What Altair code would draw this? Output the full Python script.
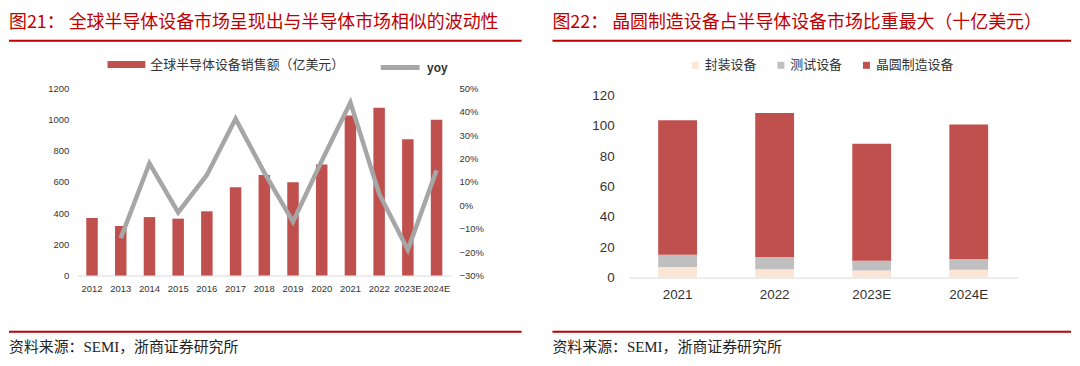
import altair as alt
import pandas as pd

# ---------------- data ----------------
years = ["2012", "2013", "2014", "2015", "2016", "2017", "2018", "2019",
         "2020", "2021", "2022", "2023E", "2024E"]
sales = [369, 318, 375, 365, 412, 566, 645, 598, 712, 1026, 1076, 874, 1000]
yoy = [None, -0.14, 0.18, -0.03, 0.13, 0.37, 0.14, -0.07, 0.19, 0.44, 0.05, -0.19, 0.15]
sales_name = "全球半导体设备销售额（亿美元）"
yoy_name = "yoy"

years2 = ["2021", "2022", "2023E", "2024E"]
cats = ["封装设备", "测试设备", "晶圆制造设备"]
pack = [7.0, 5.4, 4.6, 5.2]
test = [8.1, 8.2, 6.5, 7.1]
wafer = [88.5, 94.8, 77.0, 88.5]

title_l = "图21：  全球半导体设备市场呈现出与半导体市场相似的波动性"
title_r = "图22：  晶圆制造设备占半导体设备市场比重最大（十亿美元）"
source = "资料来源：SEMI，浙商证券研究所"

RED = "#C00000"
BAR = "#C0504D"
GRAY = "#A6A6A6"
CJK = "Noto Sans CJK SC"
LAT = "Liberation Sans"
SERIF = "Liberation Serif, Noto Sans CJK SC"

df_l = pd.DataFrame({"year": years, "sales": sales, "yoy": yoy,
                     "s1": sales_name, "s2": yoy_name})
rows = []
for i, y in enumerate(years2):
    for j, (c, v) in enumerate(zip(cats, [pack[i], test[i], wafer[i]])):
        rows.append({"year": y, "cat": c, "value": v, "ord": j})
df_r = pd.DataFrame(rows)
one = pd.DataFrame({"a": [0]})


def decorations(title, x0, x1, ty, ly_top, ly_bot, sy):
    t = alt.Chart(one).mark_text(text=title, align="left", baseline="middle",
                                 font=CJK, fontSize=18, color=RED).encode(
        x=alt.value(x0), y=alt.value(ty))
    r1 = alt.Chart(one).mark_rule(color=RED, strokeWidth=2).encode(
        x=alt.value(x0), x2=alt.value(x1), y=alt.value(ly_top))
    r2 = alt.Chart(one).mark_rule(color=RED, strokeWidth=2).encode(
        x=alt.value(x0), x2=alt.value(x1), y=alt.value(ly_bot))
    s = alt.Chart(one).mark_text(text=source, align="left", baseline="middle",
                                 font=SERIF, fontSize=15, color="#222222").encode(
        x=alt.value(x0), y=alt.value(sy))
    return [t, r1, r2, s]


# ---------------- left panel ----------------
xl = alt.X("year:N", sort=years,
           scale=alt.Scale(paddingInner=0.6, paddingOuter=0.3),
           axis=alt.Axis(title=None, labelAngle=0, labelFont=LAT, labelFontSize=9.5,
                         labelColor="#333333", labelPadding=8, ticks=False,
                         domain=True, domainColor="#D9D9D9", grid=False))

bars_l = alt.Chart(df_l).mark_bar().encode(
    x=xl,
    y=alt.Y("sales:Q", scale=alt.Scale(domain=[0, 1200], nice=False),
            axis=alt.Axis(title=None, values=[0, 200, 400, 600, 800, 1000, 1200],
                          format="d",
                          labelFont=LAT, labelFontSize=9.5, labelColor="#333333",
                          labelPadding=9, ticks=False, domain=False, grid=False)),
    color=alt.Color("s1:N", scale=alt.Scale(domain=[sales_name], range=[BAR]),
                    legend=alt.Legend(orient="none", legendX=30, legendY=-43, title=None,
                                      padding=0, labelLimit=400,
                                      symbolType="M-1,-0.184L1,-0.184L1,0.184L-1,0.184Z",
                                      symbolSize=1444, symbolStrokeWidth=0,
                                      labelFont=CJK, labelFontSize=13, labelColor="#333333",
                                      labelOffset=5)),
)

line_l = alt.Chart(df_l).transform_filter("datum.yoy != null").mark_line(
    strokeWidth=4.5).encode(
    x=alt.X("year:N", sort=years),
    y=alt.Y("yoy:Q", scale=alt.Scale(domain=[-0.3, 0.5], nice=False),
            axis=alt.Axis(title=None, orient="right", format=".0%",
                          values=[-0.3, -0.2, -0.1, 0, 0.1, 0.2, 0.3, 0.4, 0.5],
                          labelFont=LAT, labelFontSize=9.5, labelColor="#333333",
                          labelPadding=8, ticks=False, domain=False, grid=False)),
    stroke=alt.Stroke("s2:N", scale=alt.Scale(domain=[yoy_name], range=[GRAY]),
                      legend=alt.Legend(orient="none", legendX=302, legendY=-43, title=None,
                                        padding=0, symbolType="stroke", symbolSize=1521,
                                        symbolStrokeWidth=5,
                                        labelFont=LAT, labelFontSize=12, labelFontWeight="bold",
                                        labelColor="#333333", labelOffset=5)),
)

left = alt.layer(bars_l, line_l,
                 *decorations(title_l, -69, 446, -66, -48, 244.5, 260)
                 ).resolve_scale(y="independent", color="independent").properties(
    width=375, height=188)

# ---------------- right panel ----------------
bars_r = alt.Chart(df_r).mark_bar().encode(
    x=alt.X("year:N", sort=years2,
            scale=alt.Scale(paddingInner=0.6, paddingOuter=0.3),
            axis=alt.Axis(title=None, labelAngle=0, labelFont=LAT, labelFontSize=13.5,
                          labelColor="#333333", labelPadding=10, ticks=False,
                          domain=True, domainColor="#D9D9D9", grid=False)),
    y=alt.Y("value:Q", stack="zero", scale=alt.Scale(domain=[0, 124.6], nice=False),
            axis=alt.Axis(title=None, values=[0, 20, 40, 60, 80, 100, 120],
                          labelFont=LAT, labelFontSize=13.5, labelColor="#333333",
                          labelPadding=15, ticks=False, domain=False, grid=False)),
    color=alt.Color("cat:N", sort=cats,
                    scale=alt.Scale(domain=cats, range=["#FBE5D6", "#BFBFBF", BAR]),
                    legend=alt.Legend(orient="none", legendX=60, legendY=-30, title=None,
                                      direction="horizontal", padding=0,
                                      symbolType="square", symbolSize=49,
                                      symbolStrokeWidth=0, columnPadding=17,
                                      labelFont=CJK, labelFontSize=13, labelColor="#333333",
                                      labelOffset=3)),
    order=alt.Order("ord:Q", sort="ascending"),
)

right = alt.layer(bars_r, *decorations(title_r, -77, 444, -66, -48, 244.5, 260)).properties(
    width=390, height=190)

chart = alt.hconcat(left, right, spacing=29).resolve_scale(
    color="independent", stroke="independent").properties(
    padding={"left": 0, "top": 5, "right": 0, "bottom": 0},
    background="white",
).configure_view(stroke=None)

chart.save("out.html", embed_options={"renderer": "svg", "actions": False})
